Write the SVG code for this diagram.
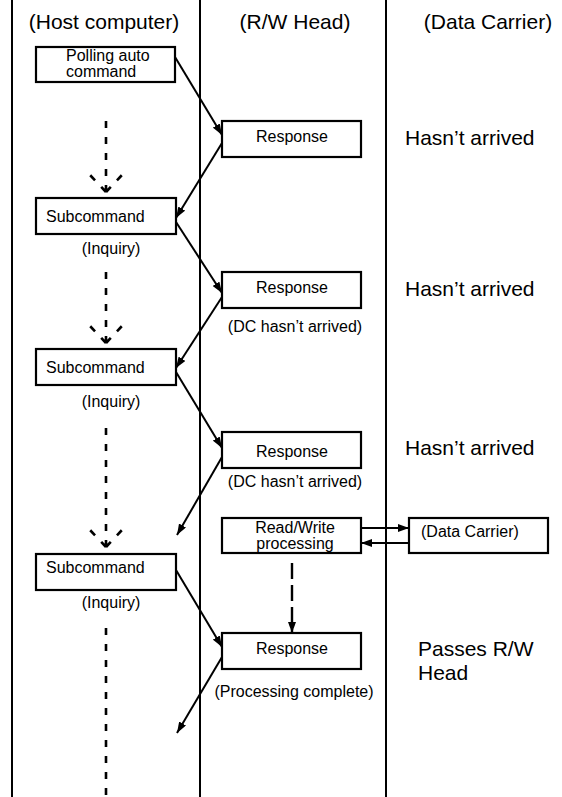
<svg xmlns="http://www.w3.org/2000/svg" width="562" height="797" viewBox="0 0 562 797">
<style>
.lane{stroke:#000;stroke-width:2;fill:none}
.box{fill:#fff;stroke:#000;stroke-width:2.2}
.big{font-family:"Liberation Sans",Arial,sans-serif;font-size:21px;fill:#000}
.sm{font-family:"Liberation Sans",Arial,sans-serif;font-size:16px;fill:#000}
.mid{text-anchor:middle}
.arr{stroke:#000;stroke-width:2;fill:none;marker-end:url(#ah)}
.dash{stroke:#000;stroke-width:2.6;fill:none;stroke-dasharray:7 9}
.ldash{stroke:#000;stroke-width:2.4;fill:none;stroke-dasharray:16 6;marker-end:url(#ah)}
</style>
<defs>
<marker id="ah" markerUnits="userSpaceOnUse" markerWidth="11" markerHeight="8" refX="11" refY="4" orient="auto">
<path d="M0,0 L11,4 L0,8 z" fill="#000"/>
</marker>
</defs>
<rect width="562" height="797" fill="#fff"/>
<g id="lanes">
<line class="lane" x1="12" y1="0" x2="12" y2="797"/>
<line class="lane" x1="200" y1="0" x2="200" y2="797"/>
<line class="lane" x1="386" y1="0" x2="386" y2="797"/>
<text class="big mid" x="104" y="29">(Host computer)</text>
<text class="big mid" x="295" y="29">(R/W Head)</text>
<text class="big mid" x="488" y="29">(Data Carrier)</text>
</g>
<g id="polling">
<rect class="box" x="36" y="47" width="139" height="35"/>
<text class="sm" x="66" y="61">Polling auto</text>
<text class="sm" x="66" y="77">command</text>
</g>
<g id="resp1">
<rect class="box" x="222" y="121" width="139" height="36"/>
<text class="sm mid" x="292" y="142">Response</text>
</g>
<g id="sub1">
<rect class="box" x="36" y="198" width="140" height="36"/>
<text class="sm" x="46" y="222">Subcommand</text>
<text class="sm mid" x="111" y="254">(Inquiry)</text>
</g>
<g id="resp2">
<rect class="box" x="222" y="272" width="139" height="36"/>
<text class="sm mid" x="292" y="293">Response</text>
<text class="sm mid" x="295" y="332">(DC hasn’t arrived)</text>
</g>
<g id="sub2">
<rect class="box" x="36" y="349" width="140" height="36"/>
<text class="sm" x="46" y="373">Subcommand</text>
<text class="sm mid" x="111" y="407">(Inquiry)</text>
</g>
<g id="resp3">
<rect class="box" x="222" y="432" width="139" height="36"/>
<text class="sm mid" x="292" y="457">Response</text>
<text class="sm mid" x="295" y="487">(DC hasn’t arrived)</text>
</g>
<g id="rwproc">
<rect class="box" x="222" y="518" width="139" height="35"/>
<text class="sm mid" x="295" y="533">Read/Write</text>
<text class="sm mid" x="295" y="549">processing</text>
</g>
<g id="dc">
<rect class="box" x="409" y="518" width="139" height="35"/>
<text class="sm" x="421" y="537">(Data Carrier)</text>
</g>
<g id="sub3">
<rect class="box" x="36" y="554" width="140" height="36"/>
<text class="sm" x="46" y="573">Subcommand</text>
<text class="sm mid" x="111" y="608">(Inquiry)</text>
</g>
<g id="resp4">
<rect class="box" x="222" y="633" width="139" height="36"/>
<text class="sm mid" x="292" y="654">Response</text>
<text class="sm mid" x="294" y="697">(Processing complete)</text>
</g>
<g id="status">
<text class="big" x="405" y="145">Hasn’t arrived</text>
<text class="big" x="405" y="296">Hasn’t arrived</text>
<text class="big" x="405" y="455">Hasn’t arrived</text>
<text class="big" x="418" y="656">Passes R/W</text>
<text class="big" x="418" y="680">Head</text>
</g>
<g id="connectors">
<line class="arr" x1="175" y1="57" x2="222" y2="135"/>
<line class="arr" x1="222" y1="143" x2="176" y2="218"/>
<line class="arr" x1="176" y1="222" x2="222" y2="293"/>
<line class="arr" x1="222" y1="297" x2="176" y2="368"/>
<line class="arr" x1="176" y1="372" x2="222" y2="448"/>
<line class="arr" x1="222" y1="457" x2="177" y2="535"/>
<line class="arr" x1="176" y1="570" x2="222" y2="647"/>
<line class="arr" x1="222" y1="657" x2="177" y2="733"/>
<line class="arr" x1="361" y1="528" x2="409" y2="528"/>
<line class="arr" x1="409" y1="543" x2="361" y2="543"/>
<line class="ldash" x1="292" y1="563" x2="292" y2="633"/>
<path class="dash" d="M106,192 V112 M106,192 L90,175 M106,192 L122,175"/>
<path class="dash" d="M106,343 V263 M106,343 L90,326 M106,343 L122,326"/>
<path class="dash" d="M106,547 V419 M106,547 L90,530 M106,547 L122,530"/>
<path class="dash" d="M106,628 V797"/>
</g>
</svg>
